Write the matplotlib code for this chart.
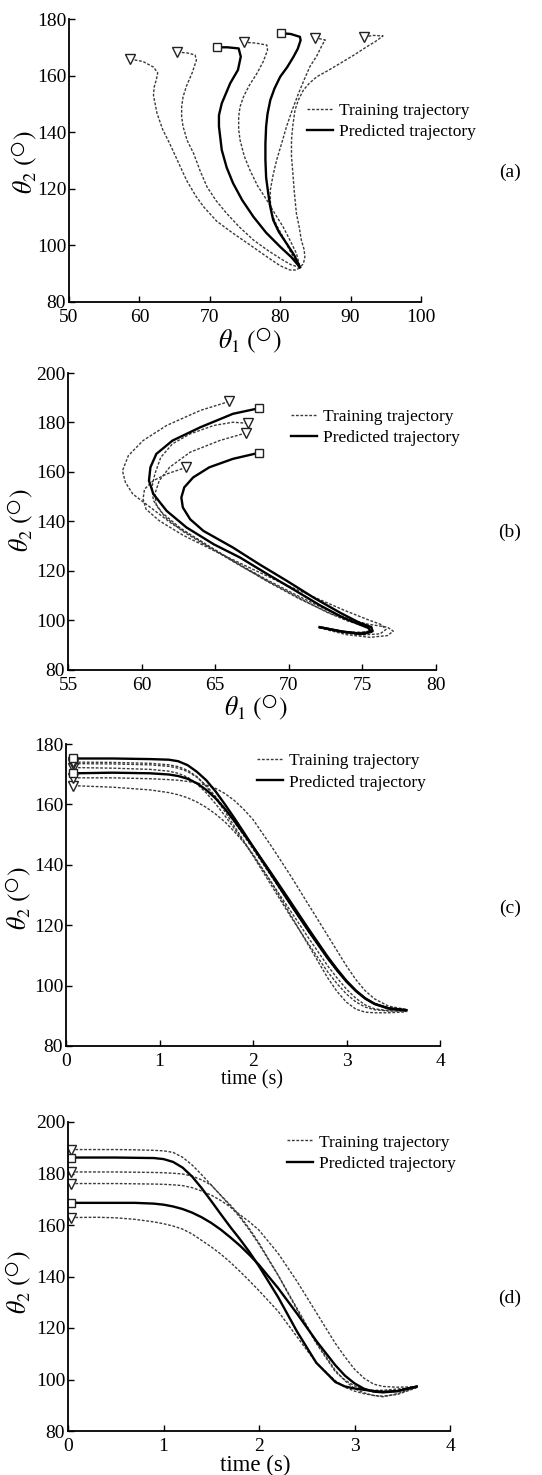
import matplotlib
matplotlib.use("Agg")
import matplotlib.pyplot as plt
import numpy as np

plt.rcParams['font.family'] = ['Liberation Serif', 'DejaVu Serif']
plt.rcParams['mathtext.fontset'] = 'stix'

# ---------------- Panel (a): theta2 vs theta1 ----------------
a_train_th1 = [
    [58.7, 60.5, 62.0, 62.6, 62.4, 62.1, 62.0, 62.5, 63.3, 64.3, 65.5, 66.7, 68.0, 69.1, 71.0, 73.3, 75.8, 78.1, 80.0, 81.4, 82.3, 82.8],
    [65.4, 66.8, 67.9, 68.1, 67.5, 66.7, 66.2, 66.0, 66.0, 66.2, 66.8, 67.7, 68.6, 69.6, 70.9, 72.4, 74.2, 76.2, 78.2, 80.0, 81.5, 82.8],
    [74.8, 76.5, 78.1, 78.2, 77.6, 76.7, 75.6, 74.8, 74.3, 74.1, 74.1, 74.3, 74.9, 75.7, 76.8, 78.1, 79.3, 80.4, 81.4, 82.3, 82.8],
    [84.9, 86.4, 86.0, 85.2, 84.2, 83.4, 82.6, 81.7, 80.9, 80.2, 79.5, 79.0, 78.6, 78.6, 78.8, 79.5, 80.4, 81.5, 82.8],
    [91.9, 93.3, 94.6, 93.5, 92.3, 90.5, 88.5, 86.8, 85.2, 84.1, 83.3, 82.6, 82.1, 81.8, 81.6, 81.6, 81.8, 82.0, 82.3, 82.7, 83.0, 83.4, 83.5, 83.3, 82.8],
]
a_train_th2 = [
    [165.8, 165.0, 163.0, 161.0, 158.5, 156.0, 153.0, 146.7, 141.0, 136.0, 129.5, 123.0, 117.5, 113.7, 108.5, 104.3, 100.0, 96.0, 92.8, 91.3, 91.3, 92.2],
    [168.3, 168.0, 167.3, 165.5, 161.0, 156.4, 152.5, 149.0, 145.5, 142.0, 137.0, 132.5, 126.5, 120.7, 115.8, 111.3, 106.5, 101.9, 98.3, 95.4, 93.2, 92.2],
    [171.8, 171.5, 170.8, 169.0, 165.0, 160.8, 156.5, 152.6, 149.0, 145.5, 141.0, 137.2, 131.5, 126.6, 121.0, 116.0, 111.0, 106.6, 101.8, 97.2, 92.5],
    [173.4, 172.6, 171.0, 167.0, 163.1, 158.5, 153.7, 147.8, 142.0, 136.0, 130.2, 125.0, 119.6, 115.5, 111.3, 107.0, 103.0, 97.5, 92.3],
    [173.7, 174.2, 174.0, 172.0, 170.2, 167.3, 164.3, 161.8, 159.6, 157.2, 154.9, 151.5, 147.8, 142.5, 137.2, 131.5, 125.5, 119.0, 111.3, 106.5, 101.9, 98.5, 96.0, 93.5, 92.3],
]
a_pred_th1 = [
    [71.0, 72.5, 74.1, 74.4, 74.0, 72.9, 71.7, 71.3, 71.3, 71.7, 72.4, 73.3, 74.6, 76.2, 78.0, 80.0, 81.6, 82.8],
    [80.1, 81.5, 82.8, 82.9, 82.5, 81.9, 81.0, 80.0, 79.2, 78.6, 78.2, 78.0, 77.9, 77.9, 78.0, 78.3, 78.6, 79.0, 79.8, 80.9, 82.0, 82.8],
]
a_pred_th2 = [
    [170.0, 170.0, 169.6, 166.7, 162.0, 157.3, 150.2, 146.0, 142.0, 133.7, 127.5, 122.0, 116.0, 110.1, 104.5, 99.5, 95.8, 92.3],
    [175.0, 174.7, 173.7, 172.5, 169.5, 166.7, 163.0, 159.6, 155.5, 151.4, 146.5, 142.0, 136.0, 130.2, 124.0, 118.4, 113.5, 109.0, 104.8, 100.7, 96.5, 92.3],
]

# ---------------- Panel (b): theta2 vs theta1 ----------------
b_train_th1 = [
    [65.95, 64.0, 61.7, 60.1, 59.1, 58.7, 58.9, 59.4, 60.6, 62.1, 64.0, 66.2, 68.5, 70.8, 73.0, 75.3, 76.7, 77.1, 76.7, 75.5, 73.9, 72.7, 72.0],
    [67.2, 66.2, 64.9, 63.3, 62.1, 61.3, 60.9, 60.7, 60.8, 61.4, 62.6, 64.4, 66.4, 68.5, 70.6, 72.5, 74.0, 75.0, 75.6, 75.7, 75.2, 74.0, 72.9, 72.1],
    [67.1, 65.3, 63.3, 61.9, 61.2, 60.9, 61.0, 61.6, 62.8, 64.6, 66.6, 68.7, 70.8, 72.6, 74.0, 75.0, 75.5, 75.4, 74.6, 73.4, 72.3],
    [63.05, 61.7, 60.8, 60.2, 60.1, 60.3, 61.2, 62.8, 64.9, 67.1, 69.4, 71.7, 73.7, 75.3, 76.3, 76.6, 76.2, 74.8, 73.3, 72.1],
]
b_train_th2 = [
    [188.5, 184.9, 178.8, 172.7, 166.6, 160.5, 155.8, 151.1, 145.7, 138.9, 132.2, 124.1, 115.9, 108.5, 102.4, 98.6, 97.3, 95.7, 93.9, 93.2, 94.3, 96.1, 97.4],
    [179.7, 180.1, 178.8, 175.4, 171.4, 165.9, 159.2, 153.8, 148.5, 143.5, 137.5, 130.5, 123.5, 116.5, 110.0, 104.5, 100.8, 98.8, 97.7, 96.3, 95.2, 95.3, 96.3, 97.3],
    [175.8, 172.7, 168.0, 161.9, 156.5, 151.1, 146.5, 141.8, 136.0, 129.5, 122.5, 115.5, 108.8, 103.3, 99.8, 98.0, 96.8, 95.6, 95.0, 95.8, 97.2],
    [161.9, 159.2, 156.5, 153.1, 149.1, 145.0, 140.3, 134.5, 128.3, 122.0, 115.5, 109.5, 104.3, 100.5, 98.3, 96.4, 94.6, 94.1, 95.4, 97.0],
]
b_pred_th1 = [
    [68.0, 66.2, 64.0, 62.1, 61.0, 60.6, 60.5, 60.8, 61.7, 63.05, 64.9, 66.7, 68.5, 70.3, 72.1, 73.7, 74.8, 75.4, 75.6, 74.8, 73.5, 72.1],
    [68.0, 66.2, 64.6, 63.5, 62.9, 62.7, 62.8, 63.3, 64.2, 66.2, 68.0, 69.9, 71.7, 73.5, 74.8, 75.6, 75.7, 75.1, 73.7, 72.1],
]
b_pred_th2 = [
    [185.8, 183.5, 178.1, 172.7, 167.3, 161.9, 156.5, 151.1, 144.3, 137.6, 130.8, 125.4, 118.9, 112.6, 106.2, 101.1, 98.4, 97.0, 95.4, 94.6, 95.7, 97.3],
    [167.8, 165.3, 161.9, 157.8, 153.8, 149.7, 145.7, 140.9, 136.2, 129.5, 122.7, 115.9, 109.2, 103.1, 99.1, 97.3, 95.7, 94.6, 95.4, 97.3],
]

# ---------------- Panel (c): theta2 vs time (trajectories of (a)) ----------------
c_time = [0.08, 0.5, 0.9, 1.1, 1.2, 1.3, 1.4, 1.5, 1.6, 1.7, 1.8, 1.9, 2.0, 2.2, 2.4, 2.6, 2.8, 2.9, 3.0, 3.1, 3.2, 3.3, 3.45, 3.64]
c_train = [
    [166.2, 165.7, 164.8, 163.9, 163.2, 162.2, 160.8, 159.0, 156.8, 154.2, 151.0, 147.5, 143.5, 134.0, 123.5, 113.0, 102.5, 98.0, 94.5, 92.2, 91.2, 91.0, 91.0, 91.3],
    [168.8, 168.8, 168.5, 168.2, 168.0, 167.6, 167.1, 166.4, 165.3, 163.6, 161.3, 158.4, 155.0, 146.0, 136.5, 126.5, 116.5, 111.5, 106.5, 102.0, 98.3, 95.6, 93.2, 92.1],
    [172.2, 172.0, 171.6, 171.0, 170.3, 169.0, 166.8, 163.8, 160.2, 156.2, 152.0, 147.6, 143.2, 134.0, 124.8, 115.5, 106.5, 102.5, 98.8, 95.8, 93.6, 92.3, 91.7, 91.6],
    [173.5, 173.4, 173.1, 172.6, 172.0, 170.9, 169.0, 166.2, 162.6, 158.6, 154.2, 149.7, 145.2, 136.0, 126.8, 117.6, 108.8, 104.8, 101.2, 98.2, 95.8, 94.0, 92.6, 92.0],
    [174.0, 173.9, 173.6, 173.1, 172.5, 171.3, 169.2, 166.0, 162.0, 157.6, 152.8, 148.0, 143.0, 133.0, 123.0, 113.5, 104.5, 100.6, 97.2, 94.6, 92.9, 92.0, 91.6, 91.6],
]
c_pred = [
    [170.3, 170.5, 170.3, 169.9, 169.4, 168.5, 167.0, 164.8, 162.0, 158.5, 154.5, 150.3, 146.0, 137.0, 127.8, 118.5, 109.5, 105.4, 101.6, 98.4, 95.8, 94.0, 92.5, 91.9],
    [175.2, 175.2, 175.0, 174.8, 174.3, 173.0, 170.8, 168.0, 164.3, 160.0, 155.5, 150.8, 146.0, 136.5, 127.0, 117.8, 109.0, 105.0, 101.3, 98.2, 95.7, 93.9, 92.4, 91.8],
]

# ---------------- Panel (d): theta2 vs time (trajectories of (b)) ----------------
d_time = [0.03, 0.3, 0.5, 0.7, 0.9, 1.0, 1.1, 1.2, 1.3, 1.4, 1.5, 1.6, 1.7, 1.8, 1.9, 2.0, 2.2, 2.4, 2.6, 2.8, 2.9, 3.0, 3.1, 3.2, 3.3, 3.45, 3.65]
d_train = [
    [189.3, 189.3, 189.3, 189.2, 189.0, 188.8, 188.2, 186.3, 183.3, 179.5, 175.5, 171.5, 167.3, 163.0, 158.0, 152.5, 140.5, 127.5, 114.5, 103.5, 99.5, 96.5, 94.8, 93.8, 93.3, 94.5, 97.0],
    [180.6, 180.6, 180.6, 180.5, 180.4, 180.3, 180.1, 179.8, 179.0, 177.5, 175.5, 171.5, 167.8, 163.5, 158.5, 153.0, 140.5, 127.0, 114.0, 103.0, 99.8, 97.5, 96.2, 95.8, 95.8, 96.3, 97.0],
    [176.1, 176.1, 176.1, 176.0, 175.9, 175.8, 175.6, 175.3, 174.5, 173.2, 171.6, 169.5, 167.0, 164.0, 161.2, 158.0, 149.0, 138.0, 126.0, 114.0, 108.8, 104.0, 100.5, 98.2, 97.3, 97.0, 97.2],
    [162.9, 163.0, 162.8, 162.2, 161.2, 160.5, 159.6, 158.4, 156.5, 154.0, 151.5, 148.7, 145.5, 142.0, 138.3, 134.5, 126.5, 116.5, 106.5, 99.5, 97.0, 95.5, 94.5, 93.8, 93.5, 94.2, 96.8],
]
d_pred = [
    [186.2, 186.2, 186.2, 186.1, 186.0, 185.6, 184.5, 182.3, 178.8, 174.3, 169.3, 164.2, 159.2, 154.5, 149.5, 144.0, 132.0, 118.5, 106.5, 99.0, 97.3, 96.5, 96.0, 95.5, 95.2, 95.5, 97.3],
    [168.6, 168.6, 168.6, 168.6, 168.3, 167.9, 167.2, 166.2, 164.8, 163.0, 160.8, 158.2, 155.2, 152.0, 148.4, 144.5, 135.5, 125.5, 115.0, 105.5, 101.5, 98.5, 96.4, 95.3, 95.0, 95.5, 97.2],
]

legend_labels = ['Training trajectory', 'Predicted trajectory']
panel_letters = ['(a)', '(b)', '(c)', '(d)']

# ---------------- styling ----------------
W, H = 542, 1475
fig = plt.figure(figsize=(W / 100, H / 100), dpi=100)

def frac_rect(l, r, t, b):
    return [l / W, 1 - b / H, (r - l) / W, (b - t) / H]

def fx(x):
    return x / W

def fy(y):
    return 1 - y / H

dash_kw = dict(color='#3a3a3a', lw=1.0, linestyle=(0, (2.0, 1.2)))
solid_kw = dict(color='black', lw=1.7, linestyle='-')
tri_kw = dict(marker='v', ms=7.5, mfc='white', mec='#222222', mew=1.0, linestyle='none')
sq_kw = dict(marker='s', ms=5.5, mfc='white', mec='#222222', mew=1.0, linestyle='none')

TICK_FS = 14
LEG_FS = 12.5
LAB_FS = 18.5


def style_axes(ax, xlim, ylim, xticks, yticks):
    ax.set_xlim(*xlim)
    ax.set_ylim(*ylim)
    ax.set_xticks(xticks)
    ax.set_yticks(yticks)
    for s in ['top', 'right']:
        ax.spines[s].set_visible(False)
    for s in ['left', 'bottom']:
        ax.spines[s].set_linewidth(1.3)
    ax.tick_params(direction='in', length=4, width=1.0, labelsize=TICK_FS)
    ax.tick_params(axis='y', pad=2)
    ax.tick_params(axis='x', pad=5)


def add_legend(ax, hx, hy):
    h1, = ax.plot([], [], **dash_kw)
    h2, = ax.plot([], [], **solid_kw)
    ax.legend([h1, h2], legend_labels, loc='upper left', bbox_to_anchor=(hx, hy),
              frameon=False, fontsize=LEG_FS, handlelength=1.5, handletextpad=0.35,
              borderpad=0, borderaxespad=0, labelspacing=0.3)


# (a)
axa = fig.add_axes(frac_rect(69, 421, 19, 302))
for x, y in zip(a_train_th1, a_train_th2):
    axa.plot(x, y, **dash_kw)
for x, y in zip(a_pred_th1, a_pred_th2):
    axa.plot(x, y, **solid_kw)
for x, y in zip(a_train_th1, a_train_th2):
    axa.plot(x[0], y[0], **tri_kw)
for x, y in zip(a_pred_th1, a_pred_th2):
    axa.plot(x[0], y[0], **sq_kw)
style_axes(axa, (50, 100), (80, 180), np.arange(50, 101, 10), np.arange(80, 181, 20))
add_legend(axa, 0.675, 0.705)

# (b)
axb = fig.add_axes(frac_rect(68, 436, 373, 670))
for x, y in zip(b_train_th1, b_train_th2):
    axb.plot(x, y, **dash_kw)
for x, y in zip(b_pred_th1, b_pred_th2):
    axb.plot(x, y, **solid_kw)
for x, y in zip(b_train_th1, b_train_th2):
    axb.plot(x[0], y[0], **tri_kw)
for x, y in zip(b_pred_th1, b_pred_th2):
    axb.plot(x[0], y[0], **sq_kw)
style_axes(axb, (55, 80), (80, 200), np.arange(55, 81, 5), np.arange(80, 201, 20))
add_legend(axb, 0.605, 0.88)

# (c)
axc = fig.add_axes(frac_rect(66, 440, 744, 1046))
for y in c_train:
    axc.plot(c_time, y, **dash_kw)
for y in c_pred:
    axc.plot(c_time, y, **solid_kw)
for y in c_train:
    axc.plot(c_time[0], y[0], **tri_kw)
for y in c_pred:
    axc.plot(c_time[0], y[0], **sq_kw)
style_axes(axc, (0, 4), (80, 180), np.arange(0, 5, 1), np.arange(80, 181, 20))
add_legend(axc, 0.51, 0.97)

# (d)
axd = fig.add_axes(frac_rect(68, 450, 1122, 1431))
for y in d_train:
    axd.plot(d_time, y, **dash_kw)
for y in d_pred:
    axd.plot(d_time, y, **solid_kw)
for y in d_train:
    axd.plot(d_time[0], y[0], **tri_kw)
for y in d_pred:
    axd.plot(d_time[0], y[0], **sq_kw)
style_axes(axd, (0, 4), (80, 200), np.arange(0, 5, 1), np.arange(80, 201, 20))
add_legend(axd, 0.573, 0.96)

# axis labels (placed in figure pixels)
th2_label = r'$\theta_2\ (^{\bigcirc})$'
th1_label = r'$\theta_1\ (^{\bigcirc})$'
for (x, y) in [(25, 162), (21, 520), (19, 898), (19, 1282)]:
    fig.text(fx(x), fy(y), th2_label, rotation=90, ha='center', va='center', fontsize=LAB_FS)
fig.text(fx(250), fy(341), th1_label, ha='center', va='center', fontsize=LAB_FS)
fig.text(fx(256), fy(708), th1_label, ha='center', va='center', fontsize=LAB_FS)
fig.text(fx(252), fy(1080), 'time (s)', ha='center', va='center', fontsize=14.5)
fig.text(fx(255), fy(1465), 'time (s)', ha='center', va='center', fontsize=16.5)

for letter, (x, y) in zip(panel_letters, [(510, 172), (510, 532), (510, 908), (510, 1298)]):
    fig.text(fx(x), fy(y), letter, ha='center', va='center', fontsize=14)

fig.savefig('out.png', dpi=100)
